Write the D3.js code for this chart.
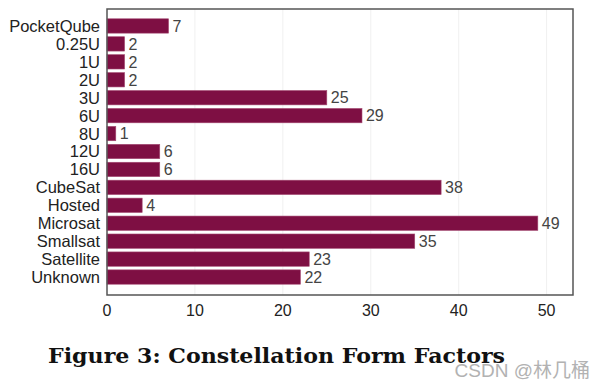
<!DOCTYPE html>
<html>
<head>
<meta charset="utf-8">
<script src="https://cdn.jsdelivr.net/npm/d3@7"></script>
<style>
body { margin: 0; background: #fff; }
</style>
</head>
<body>
<script>
const width = 595;
const height = 385;

const categories = ["PocketQube", "0.25U", "1U", "2U", "3U", "6U", "8U", "12U", "16U",
  "CubeSat", "Hosted", "Microsat", "Smallsat", "Satellite", "Unknown"];
const counts = [7, 2, 2, 2, 25, 29, 1, 6, 6, 38, 4, 49, 35, 23, 22];
const xTicks = [0, 10, 20, 30, 40, 50];

const data = categories.map((c, i) => ({ name: c, value: counts[i] }));

const svg = d3.select("body")
  .append("svg")
  .attr("width", width)
  .attr("height", height);

const plotLeft = 107, plotRight = 573, plotTop = 9, plotBottom = 295;
const labelFont = "Liberation Sans, Arial, sans-serif";

const x = d3.scaleLinear()
  .domain([0, 53])
  .range([plotLeft, plotRight]);

const y = d3.scaleBand()
  .domain(categories)
  .range([17, 286])
  .paddingInner(0.2)
  .paddingOuter(0.1);

// faint grid
svg.selectAll("line.grid")
  .data(xTicks.slice(1))
  .enter()
  .append("line")
  .attr("class", "grid")
  .attr("x1", d => x(d))
  .attr("x2", d => x(d))
  .attr("y1", plotTop)
  .attr("y2", plotBottom)
  .attr("stroke", "#f0f0f0")
  .attr("stroke-width", 1);

svg.selectAll("rect.bar")
  .data(data)
  .enter()
  .append("rect")
  .attr("class", "bar")
  .attr("x", x(0))
  .attr("y", d => y(d.name))
  .attr("width", d => x(d.value) - x(0))
  .attr("height", y.bandwidth())
  .attr("fill", "#7e0f43")
  .attr("stroke", "#a44a72")
  .attr("stroke-width", 0.6);

svg.selectAll("text.val")
  .data(data)
  .enter()
  .append("text")
  .attr("class", "val")
  .attr("x", d => x(d.value) + 4)
  .attr("y", d => y(d.name) + y.bandwidth() / 2)
  .attr("dy", "0.36em")
  .attr("font-family", labelFont)
  .attr("font-size", 16)
  .attr("fill", "#444")
  .text(d => d.value);

// frame
svg.append("rect")
  .attr("x", plotLeft)
  .attr("y", plotTop)
  .attr("width", plotRight - plotLeft)
  .attr("height", plotBottom - plotTop)
  .attr("fill", "none")
  .attr("stroke", "#555")
  .attr("stroke-width", 1.5);

// category labels
svg.selectAll("text.cat")
  .data(categories)
  .enter()
  .append("text")
  .attr("class", "cat")
  .attr("x", plotLeft - 7)
  .attr("y", d => y(d) + y.bandwidth() / 2)
  .attr("dy", "0.36em")
  .attr("text-anchor", "end")
  .attr("font-family", labelFont)
  .attr("font-size", 16.5)
  .attr("fill", "#222")
  .text(d => d);

// x tick labels
svg.selectAll("text.xt")
  .data(xTicks)
  .enter()
  .append("text")
  .attr("class", "xt")
  .attr("x", d => x(d))
  .attr("y", 316)
  .attr("text-anchor", "middle")
  .attr("font-family", labelFont)
  .attr("font-size", 16)
  .attr("fill", "#222")
  .text(d => d);

svg.append("text")
  .attr("x", 48)
  .attr("y", 363)
  .attr("font-family", "DejaVu Serif, Liberation Serif, serif")
  .attr("font-weight", "bold")
  .attr("font-size", 21)
  .attr("fill", "#111")
  .attr("textLength", 457)
  .attr("lengthAdjust", "spacingAndGlyphs")
  .text("Figure 3:  Constellation Form Factors");

svg.append("text")
  .attr("x", 590)
  .attr("y", 377)
  .attr("text-anchor", "end")
  .attr("font-family", "Liberation Sans, Noto Sans CJK SC, sans-serif")
  .attr("font-size", 19)
  .attr("fill", "#aaa")
  .attr("opacity", 0.9)
  .text("CSDN @林几桶");
</script>
</body>
</html>
